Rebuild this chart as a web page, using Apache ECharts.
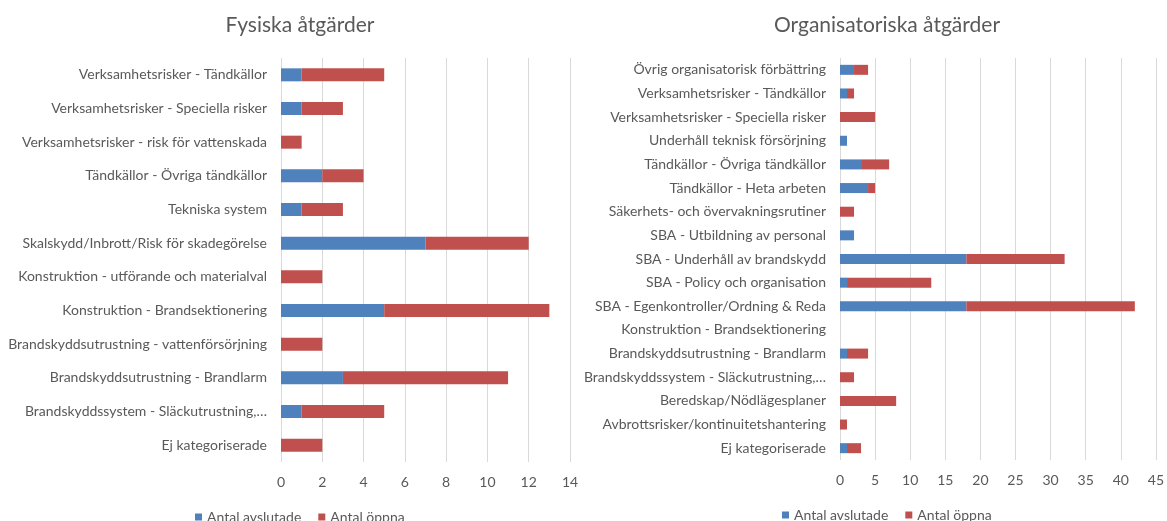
<!DOCTYPE html>
<html><head><meta charset="utf-8">
<script src="https://cdn.jsdelivr.net/npm/echarts@6/dist/echarts.min.js"></script>
<style>html,body{margin:0;padding:0;background:#fff}#c{width:1167px;height:521px}</style>
</head><body><div id="c"></div>
<script>
const leftCategories = [
  'Verksamhetsrisker - Tändkällor',
  'Verksamhetsrisker - Speciella risker',
  'Verksamhetsrisker - risk för vattenskada',
  'Tändkällor - Övriga tändkällor',
  'Tekniska system',
  'Skalskydd/Inbrott/Risk för skadegörelse',
  'Konstruktion - utförande och materialval',
  'Konstruktion - Brandsektionering',
  'Brandskyddsutrustning - vattenförsörjning',
  'Brandskyddsutrustning - Brandlarm',
  'Brandskyddssystem - Släckutrustning,…',
  'Ej kategoriserade'
];
const leftClosed = [1, 1, 0, 2, 1, 7, 0, 5, 0, 3, 1, 0];
const leftOpen   = [4, 2, 1, 2, 2, 5, 2, 8, 2, 8, 4, 2];

const rightCategories = [
  'Övrig organisatorisk förbättring',
  'Verksamhetsrisker - Tändkällor',
  'Verksamhetsrisker - Speciella risker',
  'Underhåll teknisk försörjning',
  'Tändkällor - Övriga tändkällor',
  'Tändkällor - Heta arbeten',
  'Säkerhets- och övervakningsrutiner',
  'SBA - Utbildning av personal',
  'SBA - Underhåll av brandskydd',
  'SBA - Policy och organisation',
  'SBA - Egenkontroller/Ordning & Reda',
  'Konstruktion - Brandsektionering',
  'Brandskyddsutrustning - Brandlarm',
  'Brandskyddssystem - Släckutrustning,…',
  'Beredskap/Nödlägesplaner',
  'Avbrottsrisker/kontinuitetshantering',
  'Ej kategoriserade'
];
const rightClosed = [2, 1, 0, 1, 3, 4, 0, 2, 18, 1, 18, 0, 1, 0, 0, 0, 1];
const rightOpen   = [2, 1, 5, 0, 4, 1, 2, 0, 14, 12, 24, 0, 3, 2, 8, 1, 2];

const leftTicks = [0, 2, 4, 6, 8, 10, 12, 14];
const rightTicks = [0, 5, 10, 15, 20, 25, 30, 35, 40, 45];
const titles = ['Fysiska åtgärder', 'Organisatoriska åtgärder'];
const seriesNames = ['Antal avslutade', 'Antal öppna'];

const FONT = 'Lato';
const TXT = '#595959';
const BLUE = '#4f81bd';
const RED = '#c0504d';

const chart = echarts.init(document.getElementById('c'), null, {renderer: 'canvas'});

function xAxis(gi, ticks) {
  return {
    type: 'value', gridIndex: gi, min: ticks[0], max: ticks[ticks.length - 1],
    interval: ticks[1] - ticks[0],
    axisLine: {show: false}, axisTick: {show: false},
    axisLabel: {color: TXT, fontFamily: FONT, fontSize: 14, margin: 13},
    splitLine: {lineStyle: {color: '#d9d9d9', width: 1}}
  };
}
function yAxis(gi, cats) {
  return {
    type: 'category', gridIndex: gi, data: cats, inverse: true,
    axisLine: {show: false}, axisTick: {show: false},
    axisLabel: {color: TXT, fontFamily: FONT, fontSize: 14, margin: 14}
  };
}
function bar(name, gi, data, color, width) {
  return {
    name: name, type: 'bar', stack: 's' + gi, xAxisIndex: gi, yAxisIndex: gi,
    data: data, barWidth: width, itemStyle: {color: color}, silent: true
  };
}

chart.setOption({
  animation: false,
  title: [
    {text: titles[0], left: 295, top: 10, textAlign: 'center',
     textStyle: {color: TXT, fontFamily: FONT, fontSize: 21, fontWeight: 'normal'}},
    {text: titles[1], left: 882, top: 10, textAlign: 'center',
     textStyle: {color: TXT, fontFamily: FONT, fontSize: 21, fontWeight: 'normal'}}
  ],
  legend: [
    {data: seriesNames, left: 190, top: 505, itemWidth: 7, itemHeight: 7, itemGap: 17,
     textStyle: {color: TXT, fontFamily: FONT, fontSize: 14}, icon: 'rect'},
    {data: seriesNames, left: 777, top: 503, itemWidth: 7, itemHeight: 7, itemGap: 17,
     textStyle: {color: TXT, fontFamily: FONT, fontSize: 14}, icon: 'rect'}
  ],
  grid: [
    {left: 281, width: 289, top: 58, height: 404, containLabel: false},
    {left: 840, width: 319, top: 58, height: 402, containLabel: false}
  ],
  xAxis: [xAxis(0, leftTicks), xAxis(1, rightTicks)],
  yAxis: [yAxis(0, leftCategories), yAxis(1, rightCategories)],
  series: [
    bar(seriesNames[0], 0, leftClosed, BLUE, 13),
    bar(seriesNames[1], 0, leftOpen, RED, 13),
    bar(seriesNames[0], 1, rightClosed, BLUE, 10),
    bar(seriesNames[1], 1, rightOpen, RED, 10)
  ]
});
</script>
</body></html>
